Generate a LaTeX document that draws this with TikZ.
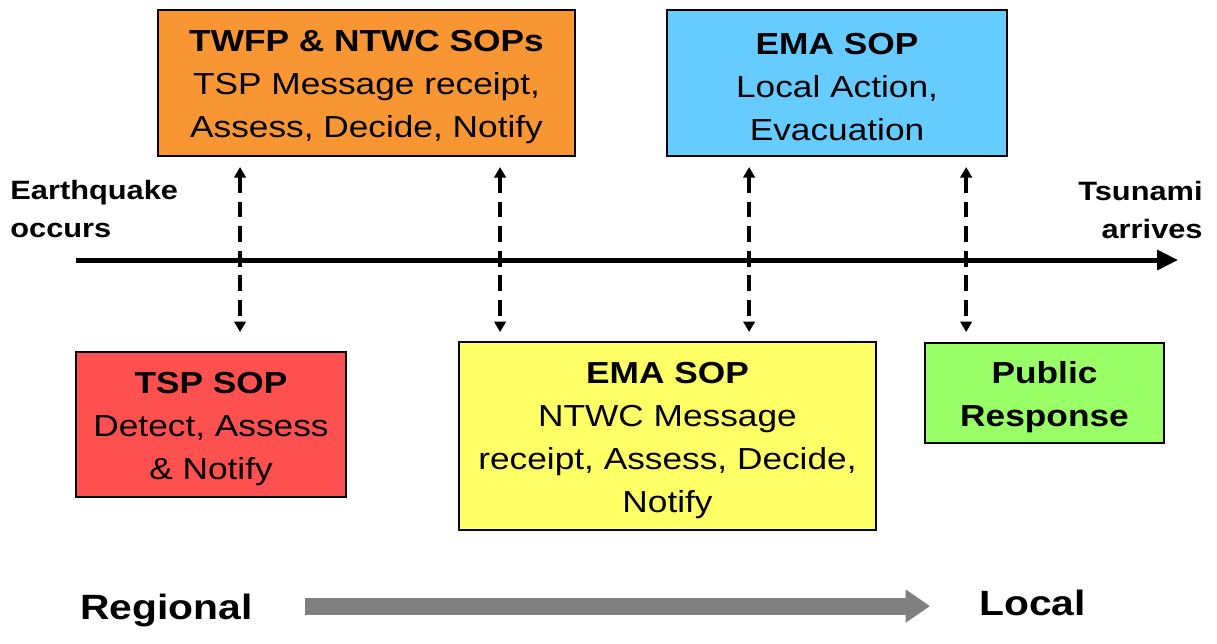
\documentclass[tikz,border=0pt]{standalone}
\usepackage{fontspec}
\setmainfont{Liberation Sans}
\usetikzlibrary{arrows.meta}

\definecolor{sopOrange}{RGB}{247,150,50}
\definecolor{sopBlue}{RGB}{102,204,255}
\definecolor{sopRed}{RGB}{255,80,80}
\definecolor{sopYellow}{RGB}{255,255,102}
\definecolor{sopGreen}{RGB}{153,255,102}
\definecolor{flowGray}{RGB}{128,128,128}

\newcommand{\topgap}{\rule{0pt}{17pt}}

\tikzset{
  sopbox/.style={draw=black, line width=1.6pt, align=center, inner sep=0pt,
    font=\fontsize{17.3}{24.5}\selectfont},
  edgelabel/.style={align=#1, inner sep=0pt, font=\fontsize{15.1}{21.5}\selectfont\bfseries},
  scalelabel/.style={anchor=west, inner sep=0pt, font=\fontsize{20}{24}\selectfont\bfseries},
  dasharrow/.style={line width=2pt, dash pattern=on 9pt off 5pt,
    {Triangle[length=6pt,width=6.5pt]}-{Triangle[length=6pt,width=6.5pt]}},
}

\begin{document}
\begin{tikzpicture}[x=0.017241cm, y=-0.02cm, xscale=1.16, transform shape]

\useasboundingbox (0,0) rectangle (1217,643);

%% upper boxes
\node[sopbox, fill=sopOrange, minimum width=7.19cm, minimum height=2.92cm] (twfp) at (366.5,83)
  {\topgap\textbf{TWFP \& NTWC SOPs}\\TSP Message receipt,\\Assess, Decide, Notify};
\node[sopbox, fill=sopBlue, minimum width=5.862cm, minimum height=2.92cm] (emalocal) at (837,83)
  {\topgap\textbf{EMA SOP}\\Local Action,\\Evacuation};

%% lower boxes
\node[sopbox, fill=sopRed, minimum width=4.655cm, minimum height=2.9cm] (tsp) at (211,424.5)
  {\topgap\textbf{TSP SOP}\\Detect, Assess\\\& Notify};
\node[sopbox, fill=sopYellow, minimum width=7.19cm, minimum height=3.76cm] (emantwc) at (667.5,436)
  {\topgap\textbf{EMA SOP}\\NTWC Message\\receipt, Assess, Decide,\\Notify};
\node[sopbox, fill=sopGreen, minimum width=4.121cm, minimum height=2.0cm] (public) at (1044.5,393)
  {\topgap\textbf{Public}\\\textbf{Response}};

%% timeline
\node[edgelabel=left, anchor=west] (quake) at (10,209) {Earthquake\\occurs};
\node[edgelabel=right, anchor=east] (arrive) at (1203,210) {Tsunami\\arrives};
\coordinate (tstart) at (76,260);
\coordinate (tend) at (1178,260);
\draw[line width=2.8pt, -{Triangle[length=12pt,width=11pt]}] (tstart) -- (tend);

%% handovers
\coordinate (up1) at (240,167);  \coordinate (dn1) at (240,332);  %% twfp - tsp
\coordinate (up2) at (500,167);  \coordinate (dn2) at (500,332);  %% twfp - emantwc
\coordinate (up3) at (749,167);  \coordinate (dn3) at (749,332);  %% emalocal - emantwc
\coordinate (up4) at (966,167);  \coordinate (dn4) at (966,332);  %% emalocal - public
\draw[dasharrow] (up1) -- (dn1);
\draw[dasharrow] (up2) -- (dn2);
\draw[dasharrow] (up3) -- (dn3);
\draw[dasharrow] (up4) -- (dn4);

%% regional to local
\node[scalelabel] (regional) at (80,610) {Regional};
\node[scalelabel] (local) at (979,603) {Local};
\coordinate (gstart) at (305,606);
\coordinate (gend) at (930,606);
\draw[flowGray, line width=9.6pt, -{Triangle[length=14pt,width=18pt]}] (gstart) -- (gend);

\end{tikzpicture}
\end{document}
